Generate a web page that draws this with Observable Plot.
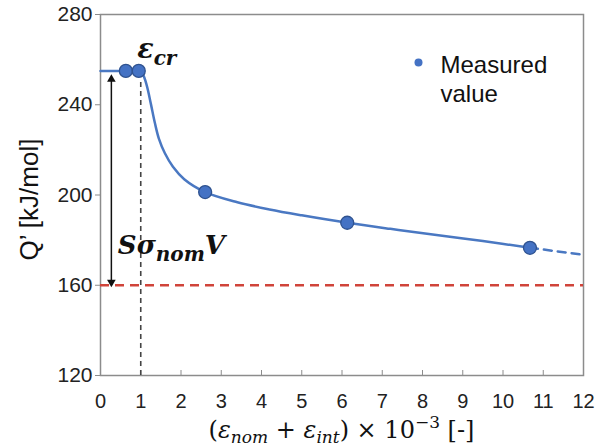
<!DOCTYPE html>
<html>
<head>
<meta charset="utf-8">
<script src="https://cdn.jsdelivr.net/npm/d3@7"></script>
<script src="https://cdn.jsdelivr.net/npm/@observablehq/plot@0.6"></script>
<style>
  html, body { margin: 0; padding: 0; background: #fff; }
  svg { display: block; }
</style>
</head>
<body>
<div id="chart"></div>
<script>
// Measured values
const measuredX = [0.63, 0.95, 2.6, 6.13, 10.67];
const measuredY = [255, 255, 201.3, 187.7, 176.6];

// Fitted curve (solid part)
const curveX = [0, 0.6, 0.95, 1.05, 1.15, 1.25, 1.35, 1.45, 1.6, 1.8, 2.08, 2.6, 3.4, 4.2, 5.0, 6.13, 7.2, 8.3, 9.5, 10.67];
const curveY = [255, 255, 255, 253.5, 248.5, 240.5, 232, 225, 218.5, 212.5, 207, 201.3, 196.8, 193.6, 191, 187.7, 185, 182.4, 179.6, 176.6];

// Extrapolated (dashed) part
const extrapX = [10.67, 12];
const extrapY = [176.6, 173.5];

// Reference values
const epsCr = 1.0;
const plateau = 255;
const threshold = 160;
const arrowX = 0.27;
const arrowTop = 252.6;

const xTicks = [0, 1, 2, 3, 4, 5, 6, 7, 8, 9, 10, 11, 12];
const yTicks = [120, 160, 200, 240, 280];

const measured = measuredX.map((x, i) => ({x, y: measuredY[i]}));
const curve = curveX.map((x, i) => ({x, y: curveY[i]}));
const extrap = extrapX.map((x, i) => ({x, y: extrapY[i]}));

const blue = "#4a78c2";
const dotFill = "#4472c4";
const dotStroke = "#2f528f";

const chart = Plot.plot({
  width: 597,
  height: 448,
  marginLeft: 100,
  marginRight: 14,
  marginTop: 14,
  marginBottom: 73,
  style: {fontFamily: "'Liberation Sans', Arial, sans-serif", background: "#fff"},
  x: {domain: [0, 12]},
  y: {domain: [120, 280]},
  marks: [
    Plot.frame({stroke: "#8c8c8c", strokeWidth: 1.5}),
    Plot.axisX({ticks: xTicks, tickSize: -5, tickPadding: 23, fontSize: 20, color: "#222", stroke: "#8c8c8c", tickFormat: d => String(d), label: null}),
    Plot.axisY({ticks: yTicks, tickSize: 5, tickPadding: 3, fontSize: 21, color: "#222", stroke: "#8c8c8c", tickFormat: d => String(d), label: null}),
    // threshold
    Plot.ruleY([threshold], {stroke: "#d0443a", strokeWidth: 2.5, strokeDasharray: "9,6"}),
    // critical strain
    Plot.ruleX([epsCr], {y1: 120, y2: plateau - 4, stroke: "#444", strokeWidth: 1.6, strokeDasharray: "5,4"}),
    // double arrow: shaft + filled heads
    Plot.ruleX([arrowX], {y1: arrowTop - 2, y2: threshold + 2, stroke: "#111", strokeWidth: 1.5}),
    Plot.dot([arrowX], {x: d => d, y: arrowTop, symbol: "triangle", r: 3.2, dy: 3, fill: "#111", stroke: "none"}),
    Plot.dot([arrowX], {x: d => d, y: threshold, symbol: "triangle", rotate: 180, r: 3.2, dy: -3, fill: "#111", stroke: "none"}),
    // curves
    Plot.line(curve, {x: "x", y: "y", stroke: blue, strokeWidth: 2.5, curve: "catmull-rom"}),
    Plot.line(extrap, {x: "x", y: "y", stroke: blue, strokeWidth: 2.5, strokeDasharray: "8,6"}),
    Plot.dot(measured, {x: "x", y: "y", r: 6.5, fill: dotFill, stroke: dotStroke, strokeWidth: 1.3}),
    // legend
    Plot.dot([0], {frameAnchor: "top-right", dx: -165, dy: 48, r: 4, fill: dotFill}),
    Plot.text(["Measured\nvalue"], {frameAnchor: "top-right", dx: -143, dy: 38, textAnchor: "start", lineAnchor: "top", fontSize: 24, lineHeight: 1.2, fill: "#111"})
  ]
});

const X = chart.scale("x"), Y = chart.scale("y");
const svg = d3.select(chart);
const serif = "'DejaVu Serif', serif";

// y-axis title
svg.append("text")
  .attr("transform", `translate(38, ${(Y.apply(120) + Y.apply(280)) / 2 + 5}) rotate(-90)`)
  .attr("text-anchor", "middle")
  .attr("font-family", "'Liberation Sans', Arial, sans-serif")
  .attr("font-size", 26).attr("fill", "#111")
  .text("Q’ [kJ/mol]");

// ε_cr annotation
const t1 = svg.append("text")
  .attr("x", X.apply(epsCr) - 3)
  .attr("y", Y.apply(plateau) - 12)
  .attr("text-anchor", "start")
  .attr("font-family", serif).attr("font-weight", "bold").attr("font-style", "italic")
  .attr("font-size", 27).attr("fill", "#111");
t1.append("tspan").text("ε");
t1.append("tspan").attr("font-size", 20).attr("dy", 7).text("cr");

// Sσ_nom V annotation
const t2 = svg.append("text")
  .attr("x", X.apply(arrowX) + 7)
  .attr("y", Y.apply(threshold) - 31)
  .attr("text-anchor", "start")
  .attr("font-family", serif).attr("font-weight", "bold").attr("font-style", "italic")
  .attr("font-size", 26).attr("fill", "#111");
t2.append("tspan").text("Sσ");
t2.append("tspan").attr("font-size", 20).attr("dy", 7).text("nom");
t2.append("tspan").attr("dy", -7).text("V");

// x-axis title
const t3 = svg.append("text")
  .attr("x", (X.apply(0) + X.apply(12)) / 2)
  .attr("y", 438)
  .attr("text-anchor", "middle")
  .attr("font-family", serif).attr("font-size", 24).attr("fill", "#111");
t3.append("tspan").text("(");
t3.append("tspan").attr("font-style", "italic").text("ε");
t3.append("tspan").attr("font-style", "italic").attr("font-size", 17).attr("dy", 5).text("nom");
t3.append("tspan").attr("dy", -5).text(" + ");
t3.append("tspan").attr("font-style", "italic").text("ε");
t3.append("tspan").attr("font-style", "italic").attr("font-size", 17).attr("dy", 5).text("int");
t3.append("tspan").attr("dy", -5).text(") × 10");
t3.append("tspan").attr("font-size", 17).attr("dy", -10).text("−3");
t3.append("tspan").attr("dy", 10).text(" [-]");

document.getElementById("chart").appendChild(chart);
</script>
</body>
</html>
